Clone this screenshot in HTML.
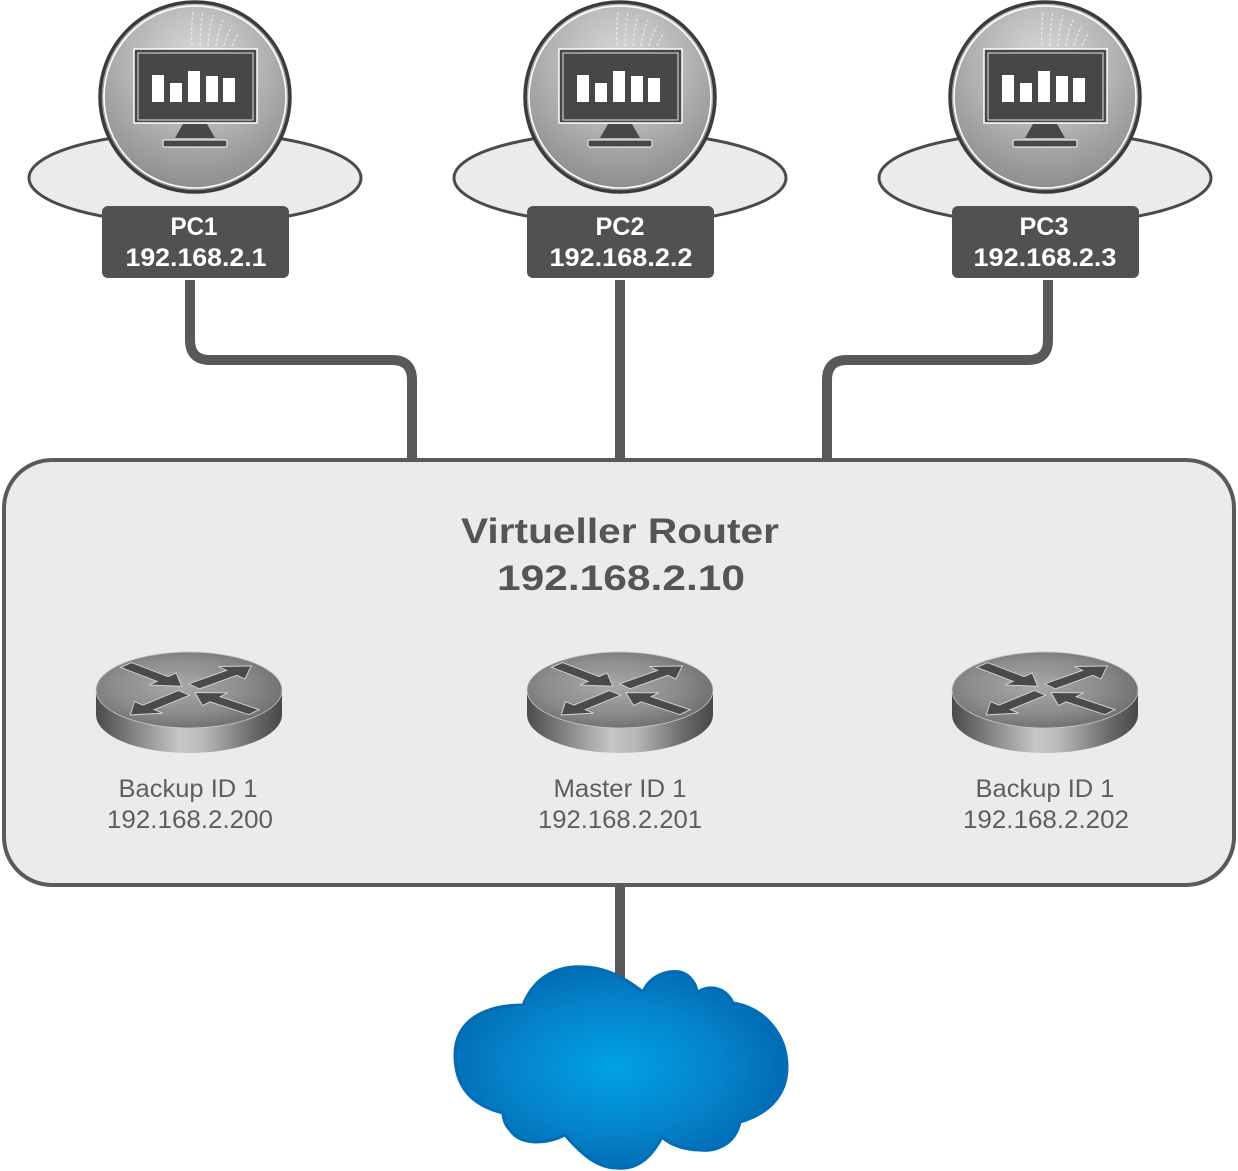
<!DOCTYPE html>
<html>
<head>
<meta charset="utf-8">
<style>
html,body{margin:0;padding:0;background:#fff;}
svg{display:block;}
</style>
</head>
<body>
<svg width="1238" height="1171" viewBox="0 0 1238 1171" xmlns="http://www.w3.org/2000/svg">
<defs>
  <radialGradient id="pcg" cx="0.5" cy="0.3" r="0.75">
    <stop offset="0" stop-color="#d8d8d8"/>
    <stop offset="0.5" stop-color="#b2b2b2"/>
    <stop offset="1" stop-color="#868686"/>
  </radialGradient>
  <radialGradient id="rtop" cx="0.45" cy="0.45" r="0.6">
    <stop offset="0" stop-color="#a9a9a9"/>
    <stop offset="0.6" stop-color="#8c8c8c"/>
    <stop offset="1" stop-color="#6c6c6c"/>
  </radialGradient>
  <linearGradient id="rside" x1="0" y1="0" x2="1" y2="0">
    <stop offset="0" stop-color="#4b4b4b"/>
    <stop offset="0.12" stop-color="#6c6c6c"/>
    <stop offset="0.45" stop-color="#c6c6c6"/>
    <stop offset="0.58" stop-color="#b8b8b8"/>
    <stop offset="0.86" stop-color="#666"/>
    <stop offset="1" stop-color="#484848"/>
  </linearGradient>
  <radialGradient id="cloudg" cx="0.48" cy="0.5" r="0.55">
    <stop offset="0" stop-color="#00a2e6"/>
    <stop offset="0.6" stop-color="#0582c9"/>
    <stop offset="1" stop-color="#0068b1"/>
  </radialGradient>

  <g id="pc">
    <ellipse cx="0" cy="178" rx="166" ry="46" fill="#ebebeb" stroke="#4a4a4a" stroke-width="3"/>
    <circle cx="0" cy="97" r="95" fill="url(#pcg)" stroke="#3b3b3b" stroke-width="3.5"/>
    <circle cx="0" cy="97" r="91" fill="none" stroke="#ffffff" stroke-width="1.6"/>
    <g fill="none" stroke="#ffffff" stroke-width="1" stroke-dasharray="3 2" opacity="0.75">
      <path d="M-3,45 Q-4,28 -2,12"/>
      <path d="M5,46 Q5,28 8,12"/>
      <path d="M13,46 Q14,30 18,15"/>
      <path d="M21,46 Q23,32 28,20"/>
      <path d="M29,46 Q32,34 37,26"/>
      <path d="M37,46 Q40,38 44,33"/>
    </g>
    <rect x="-61" y="49" width="123" height="74" fill="#474747" stroke="#ffffff" stroke-width="1.5"/>
    <rect x="-57" y="53" width="115" height="67" fill="none" stroke="#e6e6e6" stroke-width="1"/>
    <g fill="#ffffff">
      <rect x="-43" y="75" width="12" height="27"/>
      <rect x="-25" y="83" width="12" height="19"/>
      <rect x="-7" y="71" width="12" height="31"/>
      <rect x="11" y="76" width="12" height="26"/>
      <rect x="28" y="78" width="12" height="24"/>
    </g>
    <polygon points="-12,124 12,124 20,138 -20,138" fill="#474747"/>
    <rect x="-32" y="140" width="64" height="7" rx="2" fill="#474747" stroke="#ffffff" stroke-width="1"/>
    <rect x="-93" y="206" width="187" height="72" rx="6" fill="#515151"/>
  </g>

  <polygon id="arr" points="0,-8 50,-8 50,-20 76,0 50,20 50,8 0,8" fill="#4a4a4a" stroke="#d0d0d0" stroke-width="1" vector-effect="non-scaling-stroke"/>

  <g id="router">
    <path d="M-93,0 L-93,25 A93,38 0 0 0 93,25 L93,0 Z" fill="url(#rside)"/>
    <ellipse cx="0" cy="0" rx="93" ry="38" fill="url(#rtop)" stroke="#c9c9c9" stroke-width="0.8"/>
    <g transform="scale(1,0.41)">
      <use href="#arr" transform="translate(-63,-61) rotate(43)"/>
      <use href="#arr" transform="translate(5,-9) rotate(-41)"/>
      <use href="#arr" transform="translate(-5,7) rotate(135)"/>
      <use href="#arr" transform="translate(65,54) rotate(-141)"/>
    </g>
  </g>
</defs>

<!-- connectors -->
<g fill="none" stroke="#595959" stroke-width="10">
  <path d="M190,280 V340 Q190,360 210,360 H392 Q412,360 412,380 V462"/>
  <path d="M620,280 V462"/>
  <path d="M1048,280 V340 Q1048,360 1028,360 H847 Q827,360 827,380 V462"/>
  <path d="M620,884 V985"/>
</g>

<!-- router box -->
<rect x="4" y="460" width="1230" height="425" rx="48" ry="48" fill="#ebebeb" stroke="#5a5a5a" stroke-width="4"/>

<g font-family="'Liberation Sans', sans-serif" fill="#555555" font-weight="bold" text-anchor="middle">
  <text x="620" y="543" font-size="35" textLength="318" lengthAdjust="spacingAndGlyphs">Virtueller Router</text>
  <text x="621" y="590" font-size="35" textLength="248" lengthAdjust="spacingAndGlyphs">192.168.2.10</text>
</g>

<!-- PCs -->
<use href="#pc" transform="translate(195,0)"/>
<use href="#pc" transform="translate(620,0)"/>
<use href="#pc" transform="translate(1045,0)"/>

<g font-family="'Liberation Sans', sans-serif" fill="#ffffff" font-weight="bold" text-anchor="middle" font-size="25">
  <text x="194" y="235" textLength="47" lengthAdjust="spacingAndGlyphs">PC1</text>
  <text x="196" y="266" textLength="141" lengthAdjust="spacingAndGlyphs">192.168.2.1</text>
  <text x="620" y="235" textLength="49" lengthAdjust="spacingAndGlyphs">PC2</text>
  <text x="621" y="266" textLength="143" lengthAdjust="spacingAndGlyphs">192.168.2.2</text>
  <text x="1044" y="235" textLength="49" lengthAdjust="spacingAndGlyphs">PC3</text>
  <text x="1045" y="266" textLength="143" lengthAdjust="spacingAndGlyphs">192.168.2.3</text>
</g>

<!-- routers -->
<use href="#router" transform="translate(189,690)"/>
<use href="#router" transform="translate(620,690)"/>
<use href="#router" transform="translate(1045,690)"/>

<g font-family="'Liberation Sans', sans-serif" fill="#5e5e5e" text-anchor="middle" font-size="25">
  <text x="188" y="797" textLength="139" lengthAdjust="spacingAndGlyphs">Backup ID 1</text>
  <text x="190" y="828" textLength="166" lengthAdjust="spacingAndGlyphs">192.168.2.200</text>
  <text x="620" y="797" textLength="133" lengthAdjust="spacingAndGlyphs">Master ID 1</text>
  <text x="620" y="828" textLength="164" lengthAdjust="spacingAndGlyphs">192.168.2.201</text>
  <text x="1045" y="797" textLength="139" lengthAdjust="spacingAndGlyphs">Backup ID 1</text>
  <text x="1046" y="828" textLength="166" lengthAdjust="spacingAndGlyphs">192.168.2.202</text>
</g>

<!-- cloud -->
<path d="M503,1113
  C470,1105 455,1085 455,1055
  C455,1020 485,1005 523,1005
  C535,975 560,965 585,967
  C610,968 630,982 643,992
  C650,975 668,970 680,972
  C690,974 697,985 697,993
  C705,985 725,985 733,1003
  C765,1008 787,1035 787,1067
  C787,1098 765,1115 740,1122
  C735,1145 715,1152 700,1150
  C685,1150 670,1145 662,1137
  C650,1160 635,1170 617,1168
  C595,1168 578,1150 565,1135
  C545,1145 520,1145 510,1130
  C505,1125 503,1118 503,1113 Z"
  fill="url(#cloudg)" stroke="#006db6" stroke-width="3"/>
</svg>
</body>
</html>
